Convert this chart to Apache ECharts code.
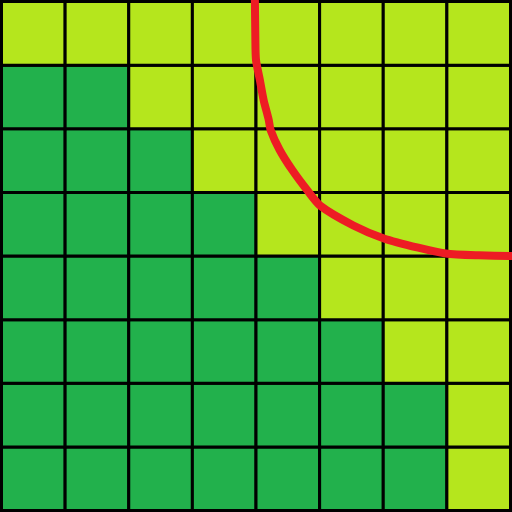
<!DOCTYPE html>
<html><head><meta charset="utf-8">
<script src="https://cdn.jsdelivr.net/npm/echarts@6/dist/echarts.min.js"></script>
<style>html,body{margin:0;padding:0;background:#fff}#c{width:512px;height:512px}</style>
</head><body><div id="c"></div>
<script>
// number of dark cells in each row, row 0 = bottom
var darkCounts = [7, 7, 6, 5, 4, 3, 2, 0];
var nCols = 8, nRows = 8;
var curveX = [3.98, 3.99, 4.0, 4.06, 4.12, 4.2, 4.23, 4.37, 4.57, 4.8, 5.01, 5.53, 6.0, 6.55, 6.98, 7.5, 7.99, 8.3];
var curveY = [8.3, 7.4, 7.08, 6.77, 6.45, 6.14, 5.98, 5.67, 5.35, 5.04, 4.79, 4.48, 4.28, 4.13, 4.04, 4.01, 4.0, 4.0];

var cells = [];
for (var j = 0; j < nRows; j++) {
  for (var i = 0; i < nCols; i++) {
    cells.push([i, j, i < darkCounts[j] ? 1 : 0]);
  }
}
var curve = curveX.map(function (x, k) { return [x, curveY[k]]; });

var chart = echarts.init(document.getElementById('c'));
chart.setOption({
  animation: false,
  grid: { left: 1.5, right: 1.5, top: 1.5, bottom: 1.5 },
  xAxis: { type: 'value', min: 0, max: 8, show: false },
  yAxis: { type: 'value', min: 0, max: 8, show: false },
  series: [
    {
      type: 'custom',
      data: cells,
      renderItem: function (params, api) {
        var x = api.value(0), y = api.value(1);
        var p0 = api.coord([x, y + 1]);
        var p1 = api.coord([x + 1, y]);
        return {
          type: 'rect',
          shape: { x: p0[0], y: p0[1], width: p1[0] - p0[0], height: p1[1] - p0[1] },
          style: { fill: api.value(2) ? '#22b14c' : '#b5e61d', stroke: '#000', lineWidth: 3 }
        };
      },
      z: 1
    },
    {
      type: 'line',
      data: curve,
      smooth: 0.25,
      symbol: 'none',
      clip: false,
      lineStyle: { color: '#ed1c24', width: 8 },
      z: 5
    }
  ]
});
</script></body></html>
